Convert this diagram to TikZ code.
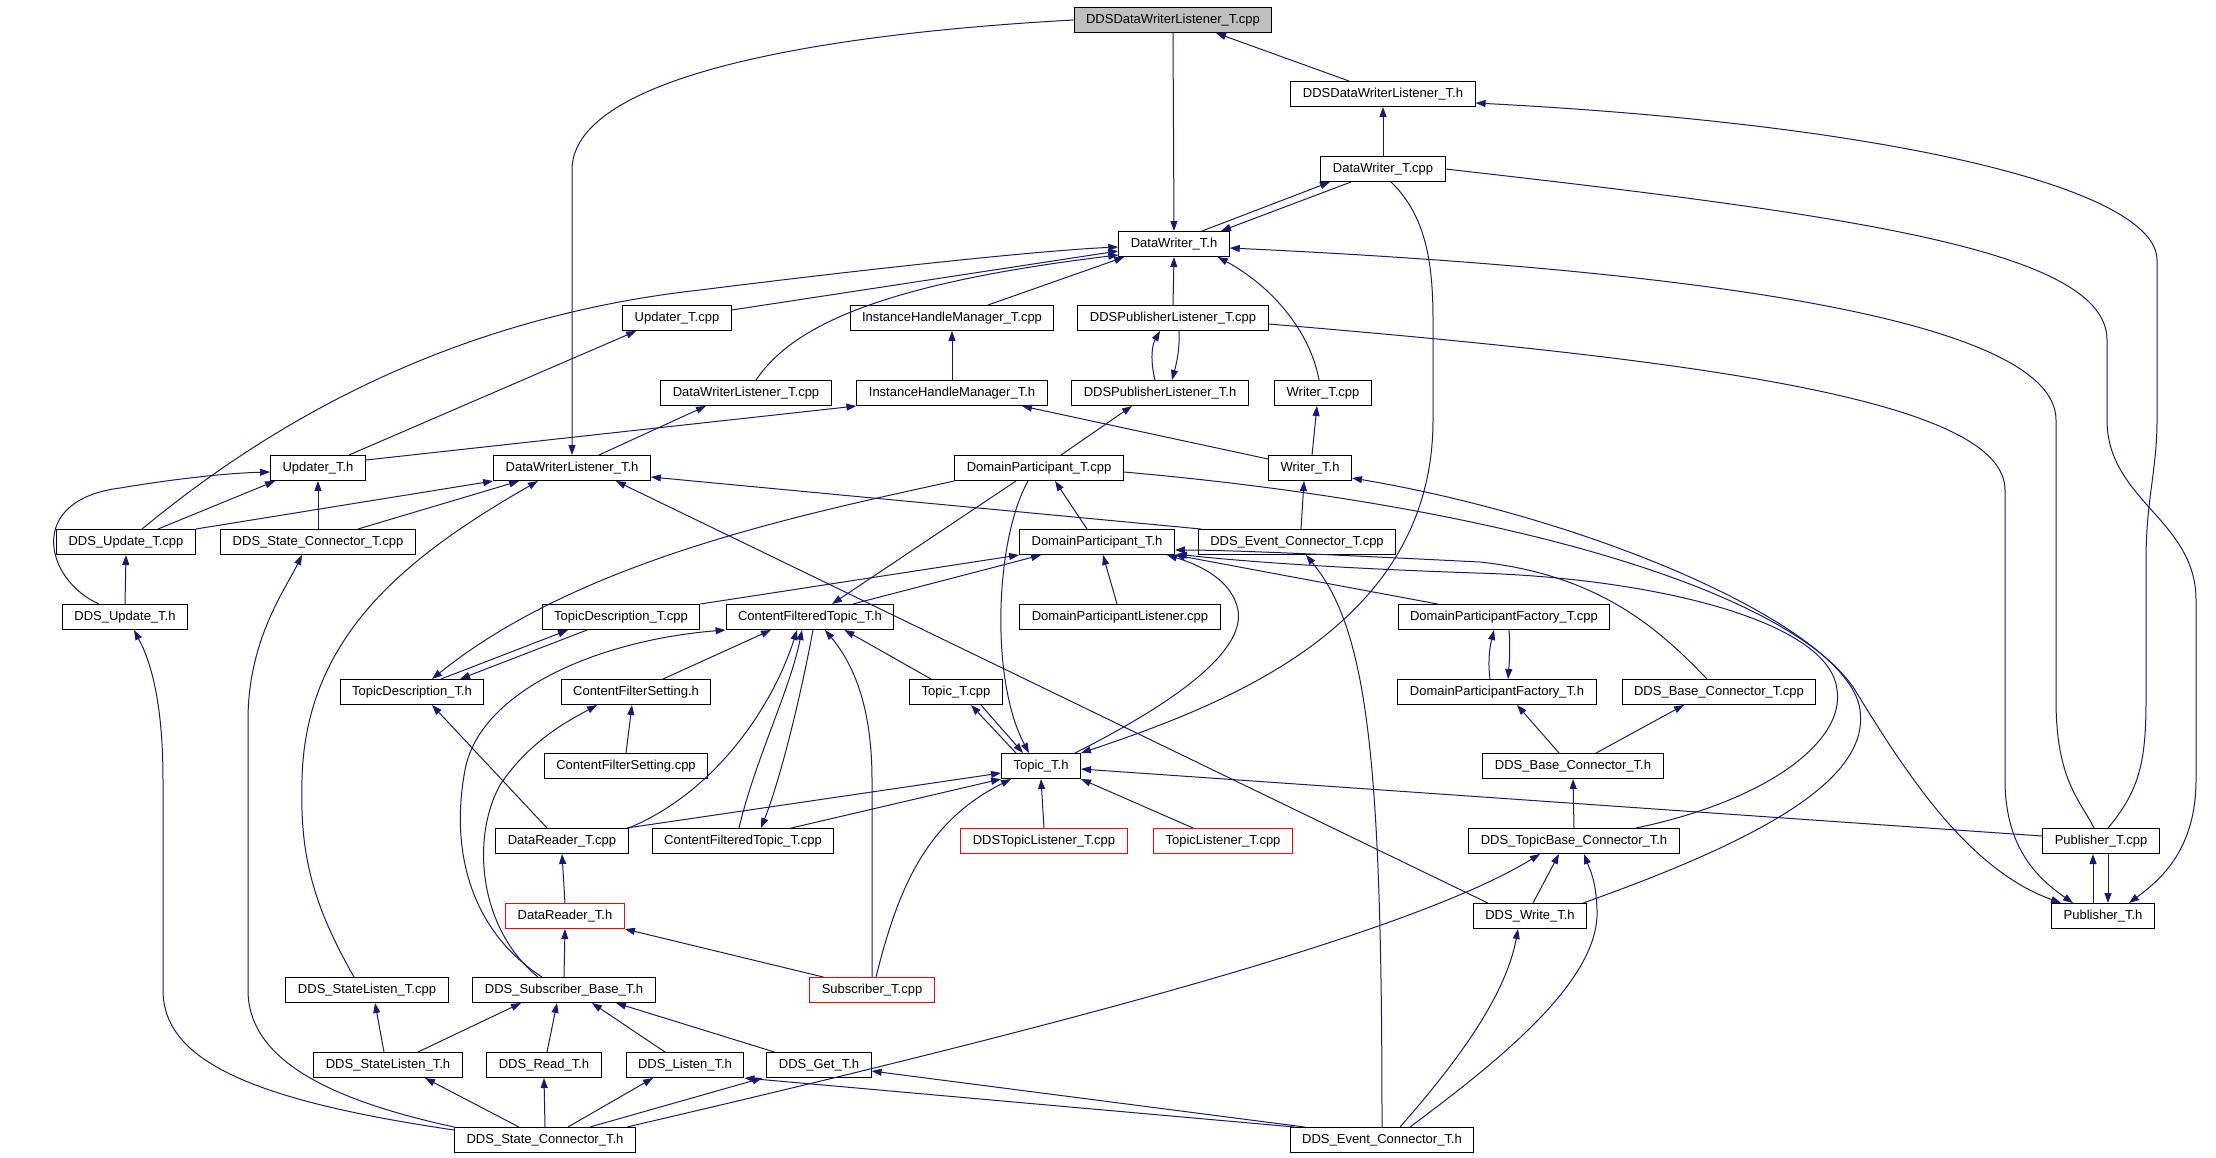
\documentclass[tikz,border=0pt]{standalone}
\usepackage{fontspec}
\setsansfont{Liberation Sans}
\usepackage{tikz}
\usetikzlibrary{arrows.meta,calc}
\definecolor{edgeblue}{HTML}{191970}
\definecolor{rootgray}{HTML}{BFBFBF}
\begin{document}
\begin{tikzpicture}[x=1pt,y=-1pt,
  filebox/.style={draw=black,line width=1pt,fill=white,font=\sffamily\fontsize{13}{15}\selectfont,
    minimum height=25pt,inner xsep=12pt,inner ysep=0pt,text height=9.5pt,text depth=3pt},
  missbox/.style={filebox,draw=red},
  rootbox/.style={filebox,fill=rootgray},
  incl/.style={draw=edgeblue,line width=1pt,-{Triangle[length=10pt,width=7pt]}}]
  \useasboundingbox (0,0) rectangle (2216,1157);

  \node[rootbox] (root) at (1173,20) {DDSDataWriterListener\_T.cpp};
  \node[filebox] (ddsdwlh) at (1383,94) {DDSDataWriterListener\_T.h};
  \node[filebox] (dwcpp) at (1383,169) {DataWriter\_T.cpp};
  \node[filebox] (dwh) at (1174,244) {DataWriter\_T.h};
  \node[filebox] (updcpp) at (677,318) {Updater\_T.cpp};
  \node[filebox] (ihmcpp) at (952,318) {InstanceHandleManager\_T.cpp};
  \node[filebox] (dplcpp) at (1173,318) {DDSPublisherListener\_T.cpp};
  \node[filebox] (dwlcpp) at (746,393) {DataWriterListener\_T.cpp};
  \node[filebox] (ihmh) at (952,393) {InstanceHandleManager\_T.h};
  \node[filebox] (dplh) at (1160,393) {DDSPublisherListener\_T.h};
  \node[filebox] (wrcpp) at (1323,393) {Writer\_T.cpp};
  \node[filebox] (updh) at (318,468) {Updater\_T.h};
  \node[filebox] (dwlh) at (572,468) {DataWriterListener\_T.h};
  \node[filebox] (dpcpp) at (1039,468) {DomainParticipant\_T.cpp};
  \node[filebox] (wrh) at (1310,468) {Writer\_T.h};
  \node[filebox] (ducpp) at (126,542) {DDS\_Update\_T.cpp};
  \node[filebox] (sccpp) at (318,542) {DDS\_State\_Connector\_T.cpp};
  \node[filebox] (dph) at (1097,542) {DomainParticipant\_T.h};
  \node[filebox] (eccpp) at (1297,542) {DDS\_Event\_Connector\_T.cpp};
  \node[filebox] (duh) at (125,617) {DDS\_Update\_T.h};
  \node[filebox] (tdcpp) at (621,617) {TopicDescription\_T.cpp};
  \node[filebox] (cfth) at (810,617) {ContentFilteredTopic\_T.h};
  \node[filebox] (dplistcpp) at (1120,617) {DomainParticipantListener.cpp};
  \node[filebox] (dpfcpp) at (1504,617) {DomainParticipantFactory\_T.cpp};
  \node[filebox] (tdh) at (412,692) {TopicDescription\_T.h};
  \node[filebox] (cfsh) at (636,692) {ContentFilterSetting.h};
  \node[filebox] (topcpp) at (956,692) {Topic\_T.cpp};
  \node[filebox] (dpfh) at (1497,692) {DomainParticipantFactory\_T.h};
  \node[filebox] (bccpp) at (1719,692) {DDS\_Base\_Connector\_T.cpp};
  \node[filebox] (cfscpp) at (626,766) {ContentFilterSetting.cpp};
  \node[filebox] (toph) at (1041,766) {Topic\_T.h};
  \node[filebox] (bch) at (1573,766) {DDS\_Base\_Connector\_T.h};
  \node[filebox] (drcpp) at (562,841) {DataReader\_T.cpp};
  \node[filebox] (cftcpp) at (743,841) {ContentFilteredTopic\_T.cpp};
  \node[missbox] (dtlcpp) at (1044,841) {DDSTopicListener\_T.cpp};
  \node[missbox] (tlcpp) at (1223,841) {TopicListener\_T.cpp};
  \node[filebox] (tbch) at (1574,841) {DDS\_TopicBase\_Connector\_T.h};
  \node[filebox] (pubcpp) at (2101,841) {Publisher\_T.cpp};
  \node[missbox] (drh) at (565,916) {DataReader\_T.h};
  \node[filebox] (writeh) at (1530,916) {DDS\_Write\_T.h};
  \node[filebox] (pubh) at (2103,916) {Publisher\_T.h};
  \node[filebox] (slcpp) at (367,990) {DDS\_StateListen\_T.cpp};
  \node[filebox] (sbh) at (564,990) {DDS\_Subscriber\_Base\_T.h};
  \node[missbox] (subcpp) at (872,990) {Subscriber\_T.cpp};
  \node[filebox] (slh) at (388,1065) {DDS\_StateListen\_T.h};
  \node[filebox] (readh) at (544,1065) {DDS\_Read\_T.h};
  \node[filebox] (listenh) at (685,1065) {DDS\_Listen\_T.h};
  \node[filebox] (geth) at (819,1065) {DDS\_Get\_T.h};
  \node[filebox] (sch) at (545,1140) {DDS\_State\_Connector\_T.h};
  \node[filebox] (ech) at (1382,1140) {DDS\_Event\_Connector\_T.h};

  \draw[incl] (root.south) -- (dwh.north);
  \draw[incl] ($(ddsdwlh.north)+(-34,0)$) -- ($(root.south)+(43,0)$);
  \draw[incl] (root.west) .. controls (800,35) and (572,80) .. (572,170) -- (dwlh.north);
  \draw[incl] (dwcpp.north) -- (ddsdwlh.south);
  \draw[incl] ($(dwh.north)+(28,0)$) -- ($(dwcpp.south)+(-53,0)$);
  \draw[incl] ($(dwcpp.south)+(-32,0)$) -- ($(dwh.north)+(47,0)$);
  \draw[incl] ($(dwcpp.south)+(8,0)$) .. controls (1425,215) and (1433,260) .. (1433,320) -- (1433,420) .. controls (1433,620) and (1240,700) .. (toph.north east);
  \draw[incl] (dwcpp.east) .. controls (1850,215) and (2107,250) .. (2107,340) -- (2107,420) .. controls (2107,500) and (2196,520) .. (2196,600) -- (2196,780) .. controls (2196,850) and (2160,880) .. ($(pubh.north)+(26,0)$);
  \draw[incl] ($(pubcpp.north)+(7,0)$) .. controls (2140,790) and (2146,760) .. (2146,700) -- (2146,560) .. controls (2146,500) and (2157,470) .. (2157,420) -- (2157,260) .. controls (2157,190) and (1900,125) .. ($(ddsdwlh.east)+(0,9)$);
  \draw[incl] ($(pubcpp.north)+(-7,0)$) .. controls (2080,800) and (2056,780) .. (2056,700) -- (2056,420) .. controls (2056,320) and (1700,270) .. ($(dwh.east)+(0,4)$);
  \draw[incl] ($(dplcpp.east)+(0,6)$) .. controls (1700,360) and (2005,400) .. (2005,490) -- (2005,780) .. controls (2005,850) and (2040,880) .. ($(pubh.north)+(-30,0)$);
  \draw[incl] ($(pubh.north)+(-10,0)$) -- ($(pubcpp.south)+(-8,0)$);
  \draw[incl] ($(pubcpp.south)+(7,0)$) -- ($(pubh.north)+(5,0)$);
  \draw[incl] ($(dpcpp.east)+(0,4)$) .. controls (1500,505) and (1790,590) .. (1855,690) .. controls (1910,780) and (1970,870) .. ($(pubh.north)+(-42,0)$);
  \draw[incl] ($(writeh.north east)+(-4,0)$) .. controls (1760,840) and (1870,780) .. (1860,710) .. controls (1850,630) and (1600,520) .. ($(wrh.east)+(0,10)$);

  \draw[incl] ($(ducpp.north)+(16,0)$) .. controls (250,440) and (430,320) .. (700,290) .. controls (900,265) and (1050,250) .. ($(dwh.west)+(0,3)$);
  \draw[incl] ($(updcpp.east)+(0,-8)$) -- ($(dwh.west)+(0,7)$);
  \draw[incl] ($(dwlcpp.north)+(10,0)$) .. controls (790,330) and (870,285) .. ($(dwh.west)+(0,11)$);
  \draw[incl] ($(ihmcpp.north)+(36,0)$) -- ($(dwh.south west)+(6,0)$);
  \draw[incl] (dplcpp.north) -- (dwh.south);
  \draw[incl] ($(wrcpp.north)+(-4,0)$) .. controls (1310,330) and (1270,285) .. ($(dwh.south east)+(-12,0)$);

  \draw[incl] ($(updh.north)+(31,0)$) -- ($(updcpp.south west)+(14,0)$);
  \draw[incl] (ihmh.north) -- (ihmcpp.south);
  \draw[incl] ($(dplh.north)+(-5,0)$) .. controls (1150,360) and (1152,345) .. ($(dplcpp.south)+(-13,0)$);
  \draw[incl] ($(dplcpp.south)+(6,0)$) .. controls (1180,350) and (1176,365) .. ($(dplh.north)+(12,0)$);
  \draw[incl] ($(updh.east)+(0,-8)$) -- (ihmh.south west);
  \draw[incl] ($(wrh.west)+(0,-9)$) -- ($(ihmh.south)+(70,0)$);
  \draw[incl] ($(dpcpp.north)+(22,0)$) -- ($(dplh.south)+(-28,0)$);
  \draw[incl] ($(wrh.north)+(2,0)$) -- ($(wrcpp.south)+(-6,0)$);
  \draw[incl] ($(dwlh.north)+(27,0)$) -- ($(dwlcpp.south)+(-40,0)$);

  \draw[incl] ($(duh.north)+(-26,0)$) .. controls (45,580) and (25,500) .. (120,488) .. controls (180,478) and (230,473) .. ($(updh.west)+(0,4)$);
  \draw[incl] ($(ducpp.north)+(32,0)$) -- ($(updh.south west)+(5,0)$);
  \draw[incl] (sccpp.north) -- (updh.south);
  \draw[incl] (ducpp.north east) -- (dwlh.south west);
  \draw[incl] ($(sccpp.north)+(40,0)$) -- ($(dwlh.south west)+(26,0)$);
  \draw[incl] ($(slcpp.north)+(-13,0)$) .. controls (310,900) and (300,850) .. (302,780) .. controls (305,640) and (400,560) .. ($(dwlh.south)+(-34,0)$);
  \draw[incl] ($(writeh.north west)+(15,0)$) -- ($(dwlh.south east)+(-35,0)$);
  \draw[incl] ($(eccpp.north west)+(3,0)$) -- ($(dwlh.east)+(0,9)$);

  \draw[incl] ($(dph.north)+(-10,0)$) -- ($(dpcpp.south)+(16,0)$);
  \draw[incl] (dpcpp.south west) .. controls (800,515) and (580,560) .. ($(tdh.north)+(20,0)$);
  \draw[incl] ($(dpcpp.south)+(-23,0)$) -- ($(cfth.north)+(22,0)$);
  \draw[incl] ($(dpcpp.south)+(-11,0)$) .. controls (995,540) and (990,680) .. ($(toph.north)+(-12,0)$);
  \draw[incl] (tdcpp.north east) -- (dph.south west);
  \draw[incl] ($(cfth.north)+(43,0)$) -- ($(dph.south west)+(22,0)$);
  \draw[incl] ($(dplistcpp.north)+(-3,0)$) -- ($(dph.south)+(6,0)$);
  \draw[incl] ($(toph.north)+(34,0)$) .. controls (1180,700) and (1245,650) .. (1238,610) .. controls (1232,580) and (1200,565) .. ($(dph.south east)+(-8,0)$);
  \draw[incl] ($(dpfcpp.north west)+(40,0)$) -- (dph.south east);
  \draw[incl] ($(bccpp.north)+(-12,0)$) .. controls (1660,630) and (1600,575) .. (1480,562) .. controls (1300,553) and (1220,550) .. ($(dph.east)+(0,8)$);
  \draw[incl] ($(tbch.north)+(62,0)$) .. controls (1770,800) and (1845,740) .. (1837,690) .. controls (1830,620) and (1650,578) .. (1476,573) .. controls (1300,567) and (1210,558) .. ($(dph.south east)+(2,-1)$);
  \draw[incl] (ech.north) .. controls (1382,760) and (1368,630) .. ($(eccpp.south)+(9,0)$);
  \draw[incl] ($(eccpp.north)+(4,0)$) -- ($(wrh.south)+(-6,0)$);

  \draw[incl] (duh.north) -- (ducpp.south);
  \draw[incl] ($(sch.north west)+(0,3)$) .. controls (250,1100) and (163,1060) .. (163,990) -- (163,780) .. controls (163,700) and (150,660) .. ($(duh.south)+(9,0)$);
  \draw[incl] (sch.north west) .. controls (330,1100) and (248,1060) .. (248,990) -- (248,720) .. controls (248,640) and (285,590) .. ($(sccpp.south)+(-16,0)$);

  \draw[incl] ($(tdh.north)+(29,0)$) -- ($(tdcpp.south)+(-53,0)$);
  \draw[incl] ($(tdcpp.south)+(-34,0)$) -- ($(tdh.north)+(48,0)$);
  \draw[incl] ($(drcpp.north)+(-15,0)$) -- ($(tdh.south)+(20,0)$);

  \draw[incl] ($(sbh.north)+(-22,0)$) .. controls (470,930) and (450,850) .. (465,770) .. controls (480,690) and (600,640) .. (cfth.south west);
  \draw[incl] ($(cfsh.north)+(27,0)$) -- ($(cfth.south)+(-39,0)$);
  \draw[incl] (drcpp.north east) .. controls (720,790) and (775,700) .. ($(cfth.south)+(-13,0)$);
  \draw[incl] ($(cftcpp.north)+(-4,0)$) .. controls (755,760) and (790,690) .. ($(cfth.south)+(-8,0)$);
  \draw[incl] ($(cfth.south)+(3,0)$) .. controls (800,700) and (780,780) .. ($(cftcpp.north)+(18,0)$);
  \draw[incl] (subcpp.north) -- (872,780) .. controls (872,700) and (850,660) .. ($(cfth.south)+(15,0)$);
  \draw[incl] ($(topcpp.north)+(-25,0)$) -- ($(cfth.south east)+(-50,0)$);

  \draw[incl] (cfscpp.north) -- ($(cfsh.south)+(-4,0)$);
  \draw[incl] ($(sbh.north)+(-26,0)$) .. controls (480,930) and (470,840) .. (500,785) .. controls (530,740) and (570,720) .. ($(cfsh.south)+(-39,0)$);

  \draw[incl] ($(toph.north)+(-25,0)$) -- ($(topcpp.south)+(15,0)$);
  \draw[incl] ($(topcpp.south)+(25,0)$) -- ($(toph.north)+(-18,0)$);
  \draw[incl] ($(drcpp.north east)+(-2,0)$) -- ($(toph.west)+(0,7)$);
  \draw[incl] ($(cftcpp.north east)+(-43,0)$) -- (toph.south west);
  \draw[incl] ($(subcpp.north)+(4,0)$) .. controls (900,880) and (930,820) .. ($(toph.south west)+(10,0)$);
  \draw[incl] (dtlcpp.north) -- (toph.south);
  \draw[incl] ($(tlcpp.north)+(-30,0)$) -- (toph.south east);
  \draw[incl] ($(pubcpp.west)+(0,-5)$) -- ($(toph.east)+(0,3)$);

  \draw[incl] ($(dpfh.north)+(-7,0)$) .. controls (1488,665) and (1489,650) .. ($(dpfcpp.south)+(-10,0)$);
  \draw[incl] ($(dpfcpp.south)+(5,0)$) .. controls (1510,640) and (1510,655) .. ($(dpfh.north)+(11,0)$);
  \draw[incl] ($(bch.north)+(-14,0)$) -- ($(dpfh.south)+(20,0)$);
  \draw[incl] ($(bch.north)+(23,0)$) -- ($(bccpp.south)+(-35,0)$);
  \draw[incl] (tbch.north) -- (bch.south);

  \draw[incl] (drh.north) -- (drcpp.south);
  \draw[incl] (sbh.north) -- (drh.south);
  \draw[incl] ($(subcpp.north west)+(14,0)$) -- (drh.south east);

  \draw[incl] ($(slh.north)+(-4,0)$) -- ($(slcpp.south)+(8,0)$);
  \draw[incl] ($(slh.north)+(30,0)$) -- ($(sbh.south)+(-43,0)$);
  \draw[incl] ($(readh.north)+(3,0)$) -- ($(sbh.south)+(-7,0)$);
  \draw[incl] ($(listenh.north)+(-20,0)$) -- ($(sbh.south)+(28,0)$);
  \draw[incl] ($(geth.north west)+(8,0)$) -- ($(sbh.south)+(52,0)$);
  \draw[incl] ($(sch.north)+(-26,0)$) -- ($(slh.south)+(37,0)$);
  \draw[incl] (sch.north) -- (readh.south);
  \draw[incl] ($(sch.north east)+(-68,0)$) -- ($(listenh.south)+(-32,0)$);
  \draw[incl] ($(sch.north east)+(-46,0)$) -- ($(geth.south west)+(-4,0)$);
  \draw[incl] ($(sch.north east)+(-9,0)$) .. controls (1000,1040) and (1400,940) .. ($(tbch.south)+(-34,0)$);
  \draw[incl] ($(ech.north west)+(5,0)$) -- (listenh.south east);
  \draw[incl] ($(ech.north west)+(15,0)$) -- ($(geth.east)+(0,6)$);
  \draw[incl] ($(ech.north)+(18,0)$) .. controls (1450,1070) and (1505,1000) .. ($(writeh.south)+(-12,0)$);
  \draw[incl] ($(ech.north)+(28,0)$) .. controls (1500,1060) and (1600,980) .. (1597,910) .. controls (1596,880) and (1590,870) .. ($(tbch.south)+(10,0)$);
  \draw[incl] ($(writeh.north)+(3,0)$) -- ($(tbch.south)+(-15,0)$);
\end{tikzpicture}
\end{document}
